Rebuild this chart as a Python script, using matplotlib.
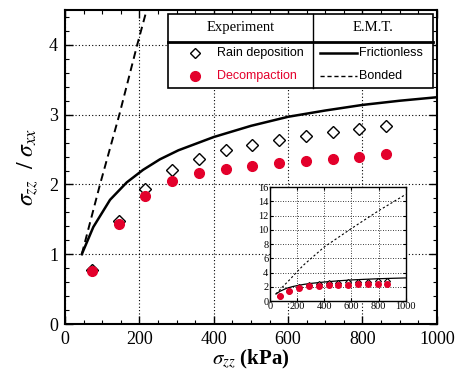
import matplotlib
matplotlib.use('Agg')
from matplotlib import pyplot as plt
from matplotlib.lines import Line2D
from matplotlib.patches import Rectangle
from matplotlib.ticker import MultipleLocator

# measured data
sigma_zz = [72, 144, 216, 288, 360, 432, 504, 576, 648, 720, 792, 864]
rain = [0.78, 1.47, 1.94, 2.21, 2.37, 2.49, 2.57, 2.64, 2.70, 2.75, 2.80, 2.84]
decomp = [0.76, 1.43, 1.83, 2.05, 2.16, 2.22, 2.27, 2.31, 2.34, 2.37, 2.40, 2.43]

# E.M.T. curves
emt_x = [45, 76, 121, 166, 210, 255, 305, 400, 500, 600, 700, 800, 900, 1000]
frictionless = [1.0, 1.39, 1.78, 2.03, 2.21, 2.36, 2.49, 2.68, 2.84, 2.97, 3.06, 3.14, 3.20, 3.25]
bond_x = [45, 94, 146, 194, 250, 400, 600, 800, 1000]
bonded = [1.0, 2.0, 3.0, 4.0, 5.1, 7.6, 10.2, 12.7, 15.0]

red = '#e3002b'
serif = 'Liberation Serif'
sans = 'Liberation Sans'
plt.rcParams['font.family'] = serif
plt.rcParams['mathtext.fontset'] = 'stix'

fig = plt.figure(figsize=(4.55, 3.86), dpi=100)
ax = fig.add_axes([0.143, 0.1606, 0.817, 0.8134])

ax.plot(emt_x, frictionless, color='k', lw=1.8, ls='-')
ax.plot(bond_x, bonded, color='k', lw=1.4, ls=(0, (4, 2.5)))
ax.plot(sigma_zz, rain, ls='none', marker='D', mfc='white', mec='k', ms=5.8, mew=1.0)
ax.plot(sigma_zz, decomp, ls='none', marker='o', mfc=red, mec=red, ms=7)

ax.set_xlim(0, 1000)
ax.set_ylim(0, 4.5)
ax.xaxis.set_major_locator(MultipleLocator(200))
ax.xaxis.set_minor_locator(MultipleLocator(50))
ax.yaxis.set_major_locator(MultipleLocator(1))
ax.yaxis.set_minor_locator(MultipleLocator(0.2))
ax.tick_params(which='both', direction='in', top=True, right=True)
ax.tick_params(which='major', length=6, width=1, labelsize=13, pad=5)
ax.tick_params(which='minor', length=3, width=0.8)
ax.grid(True, which='major', color='k', ls=(0, (1, 2)), lw=0.8)
for s in ax.spines.values():
    s.set_linewidth(1.5)
ax.set_xlabel(r'$\sigma_{zz}$ (kPa)', fontsize=15, fontweight='bold', labelpad=0)
ax.set_ylabel(r'$\sigma_{zz}\ \ /\ \sigma_{xx}$', fontsize=17, labelpad=6)

# legend table
tx0, tx1, ty0, ty1 = 0.369, 0.952, 0.772, 0.964
ymid = 0.891
xdiv = 0.688
Z = 10
fig.patches.append(Rectangle((tx0, ty0), tx1 - tx0, ty1 - ty0, transform=fig.transFigure,
                             fc='white', ec='k', lw=1.2, zorder=5))
fig.lines.append(Line2D([tx0, tx1], [ymid, ymid], transform=fig.transFigure, color='k', lw=2,
                        zorder=Z))
fig.lines.append(Line2D([xdiv, xdiv], [ty0, ty1], transform=fig.transFigure, color='k', lw=1,
                        zorder=Z))
fig.text((tx0 + xdiv) / 2, 0.928, 'Experiment', ha='center', va='center', fontsize=10.5,
         family=serif, zorder=Z)
fig.text((xdiv + tx1) / 2, 0.928, 'E.M.T.', ha='center', va='center', fontsize=10.5,
         family=serif, zorder=Z)
r1, r2 = 0.862, 0.802
fig.lines.append(Line2D([0.429], [r1], transform=fig.transFigure, marker='D', mfc='white',
                        mec='k', ms=5.5, mew=1.0, ls='none', zorder=Z))
fig.lines.append(Line2D([0.429], [r2], transform=fig.transFigure, marker='o', mfc=red,
                        mec=red, ms=7, ls='none', zorder=Z))
fig.text(0.477, r1, 'Rain deposition', va='center', fontsize=9, family=sans, zorder=Z)
fig.text(0.477, r2, 'Decompaction', va='center', fontsize=9, family=sans, color=red,
         zorder=Z)
fig.lines.append(Line2D([0.703, 0.785], [r1, r1], transform=fig.transFigure, color='k',
                        lw=1.8, zorder=Z))
fig.lines.append(Line2D([0.703, 0.785], [r2, r2], transform=fig.transFigure, color='k',
                        lw=1.0, ls=(0, (3, 2)), zorder=Z))
fig.text(0.790, r1, 'Frictionless', va='center', fontsize=9, family=sans, zorder=Z)
fig.text(0.790, r2, 'Bonded', va='center', fontsize=9, family=sans, zorder=Z)

# inset
ins = fig.add_axes([0.593, 0.220, 0.299, 0.295])
ins.plot(emt_x, frictionless, color='k', lw=0.9)
ins.plot(bond_x, bonded, color='k', lw=0.8, ls=(0, (2, 2)))
ins.plot(sigma_zz, rain, ls='none', marker='D', mfc='white', mec='k', ms=3, mew=0.8)
ins.plot(sigma_zz, decomp, ls='none', marker='o', mfc=red, mec=red, ms=4)
ins.set_xlim(0, 1000)
ins.set_ylim(0, 16)
ins.xaxis.set_major_locator(MultipleLocator(200))
ins.yaxis.set_major_locator(MultipleLocator(2))
ins.tick_params(direction='in', top=True, right=True, length=2, labelsize=7.5, pad=1)
ins.grid(True, color='k', ls=(0, (1, 2)), lw=0.6)
for s in ins.spines.values():
    s.set_linewidth(1.0)

fig.savefig('out.png', dpi=100)
